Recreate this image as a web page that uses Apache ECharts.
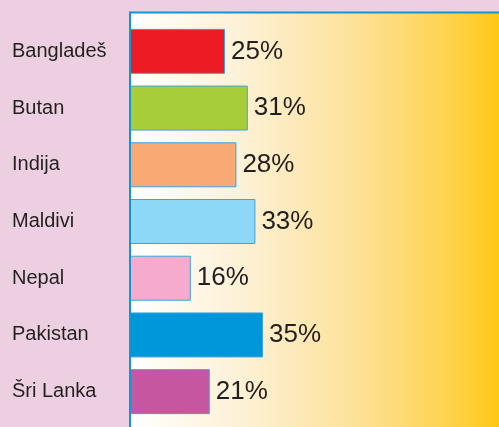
<!DOCTYPE html>
<html>
<head>
<meta charset="utf-8">
<script src="https://cdn.jsdelivr.net/npm/echarts@6/dist/echarts.min.js"></script>
<style>html,body{margin:0;padding:0;background:#ecd0e1;}#c{width:499px;height:427px;}</style>
</head>
<body>
<div id="c"></div>
<script>
const categories = ['Bangladeš', 'Butan', 'Indija', 'Maldivi', 'Nepal', 'Pakistan', 'Šri Lanka'];
const values = [25, 31, 28, 33, 16, 35, 21];
const barColors = ['#ed1c24', '#a7ce39', '#f9a974', '#8ed8f7', '#f4abcd', '#0096da', '#c4579f'];

const chart = echarts.init(document.getElementById('c'), null, {renderer: 'canvas'});
chart.setOption({
  backgroundColor: '#ecd0e1',
  animation: false,
  graphic: [
    {type: 'rect', z: -10, shape: {x: 130, y: 12, width: 369, height: 415},
     style: {fill: new echarts.graphic.LinearGradient(0, 0, 1, 0, [
       {offset: 0, color: '#ffffff'},
       {offset: 0.3, color: '#fdf1d6'},
       {offset: 0.6, color: '#fde29c'},
       {offset: 0.85, color: '#fed452'},
       {offset: 1, color: '#fec814'}])}},
    {type: 'line', z: 10, shape: {x1: 129, y1: 12.5, x2: 499, y2: 12.5}, style: {stroke: '#0f96d6', lineWidth: 2}},
    {type: 'line', z: 10, shape: {x1: 130, y1: 12, x2: 130, y2: 427}, style: {stroke: '#0f96d6', lineWidth: 2}}
  ],
  grid: {left: 130, width: 380, top: 23, height: 397, outerBoundsMode: 'none', containLabel: false},
  xAxis: {type: 'value', min: 0, max: 100, show: false},
  yAxis: {
    type: 'category', data: categories, inverse: true,
    axisLine: {show: false}, axisTick: {show: false},
    axisLabel: {align: 'left', margin: 118, color: '#231f20', fontSize: 20,
      fontFamily: "'Liberation Sans', Arial, sans-serif"}
  },
  series: [{
    type: 'bar', barWidth: 45,
    data: values.map((v, i) => ({value: v, itemStyle: {color: barColors[i]}})),
    itemStyle: {borderColor: '#3fa3dc', borderWidth: 1},
    label: {show: true, position: 'right', distance: 6, formatter: '{c}%', color: '#231f20',
      fontSize: 26, fontFamily: "'Liberation Sans', Arial, sans-serif"}
  }]
});
</script>
</body>
</html>
